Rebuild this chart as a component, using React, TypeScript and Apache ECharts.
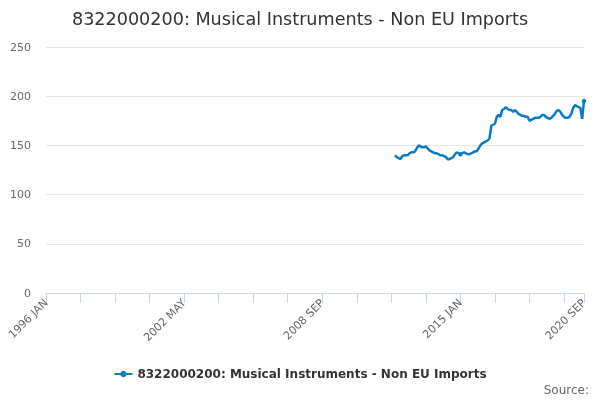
import React, { useEffect, useRef } from "react";
import * as echarts from "echarts";

const MONTHS = ["JAN", "FEB", "MAR", "APR", "MAY", "JUN", "JUL", "AUG", "SEP", "OCT", "NOV", "DEC"];
const START_YEAR = 1996;
const END_YEAR = 2020;
const END_MONTH = 8; // SEP (0-based)
const DATA_START = "2012 JAN";

const categories: string[] = [];
for (let y = START_YEAR; y <= END_YEAR; y++) {
  for (let m = 0; m < 12; m++) {
    if (y === END_YEAR && m > END_MONTH) break;
    categories.push(`${y} ${MONTHS[m]}`);
  }
}

// Monthly values from 2012 JAN to 2020 SEP
const values: number[] = [
  140, 138, 137, 136, 139, 140, 140, 140, 142, 143, 143, 144,
  147, 150, 149, 148, 148, 149, 147, 145, 144, 143, 142, 142,
  141, 140, 140, 139, 138, 136, 136, 137, 138, 141, 143, 142,
  141, 142, 143, 142, 141, 141, 142, 143, 144, 144, 147, 150,
  152, 153, 154, 155, 157, 170, 171, 172, 179, 181, 179, 186,
  187, 189, 187, 186, 186, 184, 186, 184, 182, 181, 180, 180,
  179, 179, 175, 176, 177, 178, 178, 178, 179, 181, 181, 179,
  178, 177, 178, 180, 182, 185, 186, 184, 181, 179, 178, 178,
  179, 182, 188, 191, 190, 189, 188, 177, 195,
];

const seriesName = "8322000200: Musical Instruments - Non EU Imports";
const yTicks = [0, 50, 100, 150, 200, 250];

export default function App() {
  const ref = useRef<HTMLDivElement>(null);
  useEffect(() => {
    if (!ref.current) return;
    const chart = echarts.init(ref.current, undefined, { renderer: "svg" });
    const startIdx = categories.indexOf(DATA_START);
    const data: (number | null)[] = categories.map((_, i) =>
      i >= startIdx && i - startIdx < values.length ? values[i - startIdx] : null
    );
    const last = categories.length - 1;
    const font = "DejaVu Sans, Verdana, sans-serif";
    chart.setOption({
      animation: false,
      textStyle: { fontFamily: font },
      title: {
        text: seriesName,
        left: "center",
        top: 5,
        textStyle: { fontSize: 17.6, fontWeight: "normal", color: "#333333", fontFamily: font },
      },
      grid: { left: 46, right: 16, top: 47, bottom: 107, containLabel: false },
      xAxis: {
        type: "category",
        data: categories,
        boundaryGap: false,
        axisLine: { lineStyle: { color: "#ccd6eb" } },
        axisTick: {
          length: 10,
          lineStyle: { color: "#ccd6eb" },
          interval: (i: number) => i % 19 === 0 || i === last,
        },
        axisLabel: {
          rotate: 45,
          color: "#666666",
          fontSize: 11,
          fontFamily: font,
          interval: (i: number) => i % 76 === 0 || i === last,
          margin: 8,
        },
        splitLine: { show: false },
      },
      yAxis: {
        type: "value",
        min: yTicks[0],
        max: yTicks[yTicks.length - 1],
        interval: 50,
        axisLine: { show: false },
        axisTick: { show: false },
        axisLabel: { color: "#666666", fontSize: 11, fontFamily: font, margin: 15 },
        splitLine: { lineStyle: { color: "#e6e6e6" } },
      },
      legend: {
        bottom: 15,
        left: "center",
        itemWidth: 18,
        itemHeight: 8,
        itemGap: 6,
        textStyle: { fontSize: 12, fontWeight: "bold", color: "#333333", fontFamily: font },
        data: [seriesName],
      },
      graphic: [
        {
          type: "text",
          right: 11,
          bottom: 4,
          style: { text: "Source:", fontSize: 12, fill: "#666666", fontFamily: font },
        },
      ],
      series: [
        {
          name: seriesName,
          type: "line",
          data,
          connectNulls: false,
          symbol: "circle",
          symbolSize: 4.5,
          showSymbol: true,
          lineStyle: { width: 2.5, color: "#0c7bc0" },
          itemStyle: { color: "#0c7bc0" },
        },
      ],
    });
    return () => chart.dispose();
  }, []);
  return <div ref={ref} style={{ position: "fixed", left: 0, top: 0, width: 600, height: 400 }} />;
}
